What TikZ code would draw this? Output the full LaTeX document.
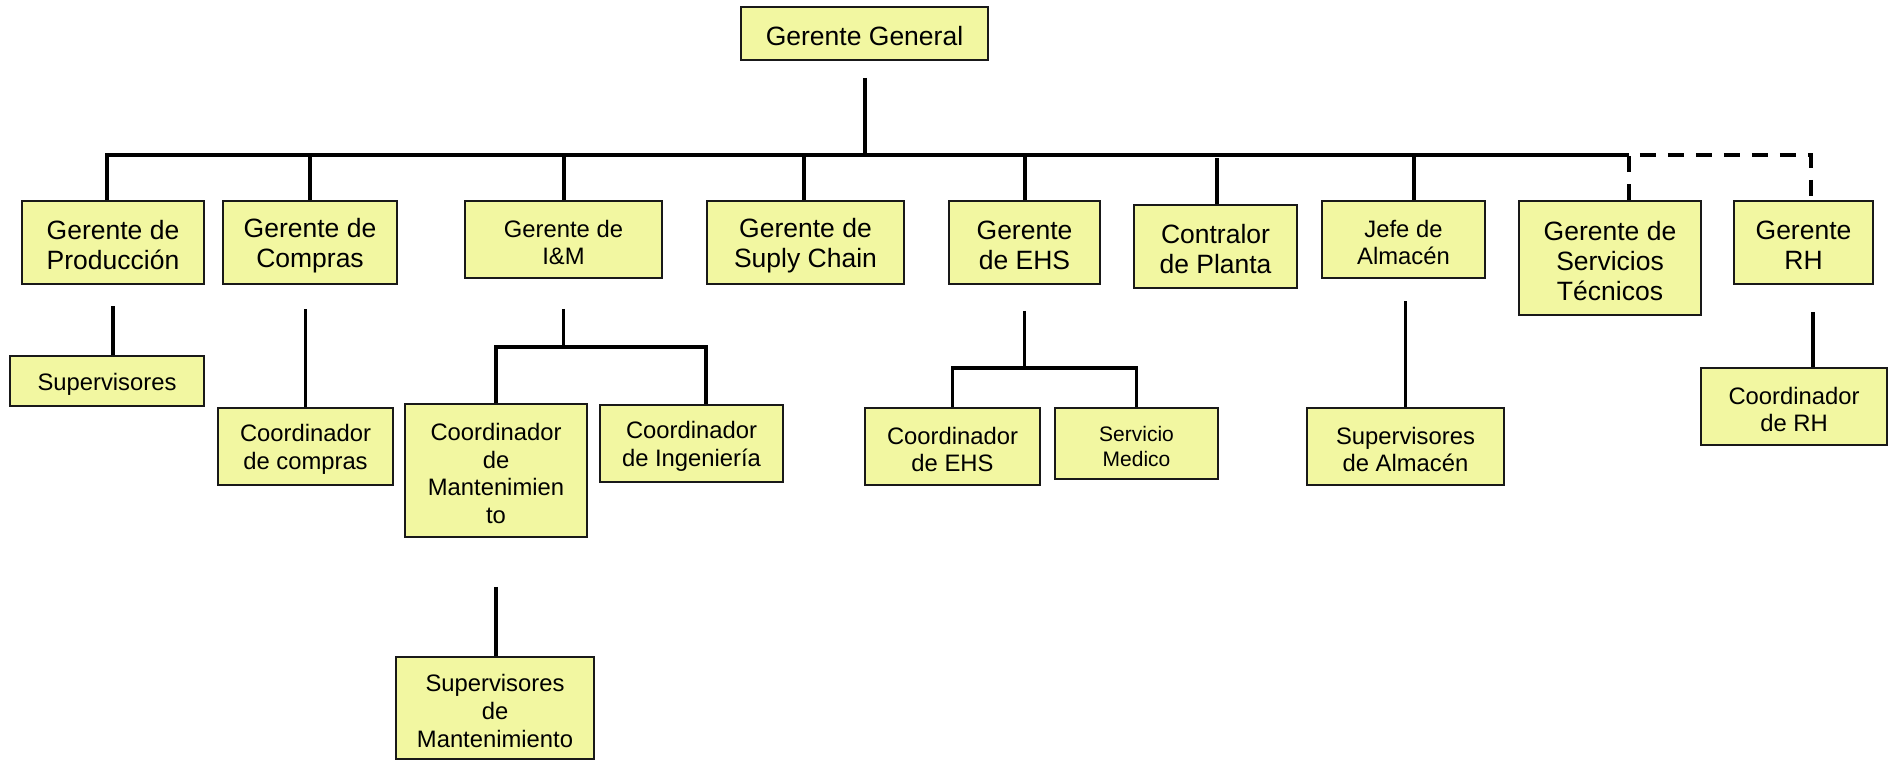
\documentclass[tikz,border=0pt]{standalone}
\usepackage{fontspec}
\setmainfont{Liberation Sans}
\usetikzlibrary{calc}
\definecolor{boxfill}{RGB}{242,247,161}
\newcommand\orgbox[7]{%
  \node[box,minimum width=#4pt,minimum height=#5pt] (#1) at (#2,#3) {};
  \node[#6,align=center,inner sep=0pt] (#1-t) at ([yshift=-3pt]#1.center) {#7};}
\begin{document}
\begin{tikzpicture}[x=1pt,y=-1pt,
  box/.style={draw=black!90, line width=1.8pt, fill=boxfill, inner sep=0pt, anchor=center},
  big/.style={font=\fontsize{26.5}{30}\selectfont},
  med/.style={font=\fontsize{23.8}{27.6}\selectfont},
  sml/.style={font=\fontsize{21}{25}\selectfont},
  conn/.style={line width=4pt},
  sub/.style={line width=3.2pt},
  dashlink/.style={line width=4pt, dash pattern=on 16pt off 12pt}
]
\useasboundingbox (0,0) rectangle (1893,760);

% level 0
\orgbox{gg}{864.5}{33.5}{247}{53}{big}{Gerente General}

% level 1
\orgbox{prod}{113}{242.5}{182}{83}{big}{Gerente de\\Producción}
\orgbox{comp}{310}{242.5}{174}{83}{big}{Gerente de\\Compras}
\orgbox{im}{563.5}{239.5}{197}{77}{med}{Gerente de\\I\&M}
\orgbox{sc}{805.5}{242.5}{197}{83}{big}{Gerente de\\Suply Chain}
\orgbox{ehs}{1024.5}{242.5}{151}{83}{big}{Gerente\\de EHS}
\orgbox{contr}{1215.5}{246.5}{163}{83}{big}{Contralor\\de Planta}
\orgbox{jefe}{1403.5}{239.5}{163}{77}{med}{Jefe de\\Almacén}
\orgbox{st}{1610}{258}{182}{114}{big}{Gerente de\\Servicios\\Técnicos}
\orgbox{rh}{1803.5}{242.5}{139}{83}{big}{Gerente\\RH}

% level 2
\orgbox{sup}{107}{381}{194}{50}{med}{Supervisores}
\orgbox{ccomp}{305.5}{446.5}{175}{77}{med}{Coordinador\\de compras}
\orgbox{cmant}{496}{470.5}{182}{133}{med}{Coordinador\\de\\Mantenimien\\to}
\orgbox{cing}{691.5}{443.5}{183}{77}{med}{Coordinador\\de Ingeniería}
\orgbox{cehs}{952.5}{446.5}{175}{77}{med}{Coordinador\\de EHS}
\orgbox{smed}{1136.5}{443.5}{163}{71}{sml}{Servicio\\Medico}
\orgbox{salm}{1405.5}{446.5}{197}{77}{med}{Supervisores\\de Almacén}
\orgbox{crh}{1794}{406.5}{186}{77}{med}{Coordinador\\de RH}

% level 3
\orgbox{smant}{495}{708}{198}{102}{med}{Supervisores\\de\\Mantenimiento}

% main connectors
\coordinate (hub) at (864.5,155);
\coordinate (bL) at (107,155);
\coordinate (bR) at (1629,155);
\coordinate (dR) at (1811,155);
\draw[conn] ($(gg.south)+(0,17)$) -- (hub);
\draw[conn] (bL |- prod.north) -- (bL) -- (bR);
\draw[conn] (comp.north) -- (comp.north |- bL);
\draw[conn] (im.north) -- (im.north |- bL);
\draw[conn] ([xshift=-1.5pt]sc.north) -- ++(0,-46);
\draw[conn] (ehs.north) -- (ehs.north |- bL);
\draw[conn] ([xshift=1.5pt]contr.north) -- ++(0,-46);
\draw[conn] ([xshift=10pt]jefe.north) -- ++(0,-46);
\draw[dashlink] (bR |- st.north) -- (bR) -- (dR) -- (dR |- rh.north);

% sub connectors
\draw[sub] (sup.north -| prod.south) -- ($(prod.south)+(0,21)$);
\draw[sub] (ccomp.north) -- ++(0,-98);
\coordinate (imL) at (496,347);
\coordinate (imR) at (706,347);
\draw[sub] ($(im.south)+(0,30)$) -- (im.south |- imL);
\draw[sub] (cmant.north) -- (imL) -- (imR) -- (imR |- cing.north);
\draw[sub] ($(cmant.south)+(0,49)$) -- (smant.north -| cmant.south);
\coordinate (ehsL) at (952.5,368);
\coordinate (ehsR) at (1136.5,368);
\draw[sub] ($(ehs.south)+(0,26)$) -- (ehs.south |- ehsL);
\draw[sub] (cehs.north) -- (ehsL) -- (ehsR) -- (smed.north);
\draw[sub] (salm.north) -- ++(0,-106);
\draw[sub] ([xshift=19pt]crh.north) -- ++(0,-55);
\end{tikzpicture}
\end{document}
